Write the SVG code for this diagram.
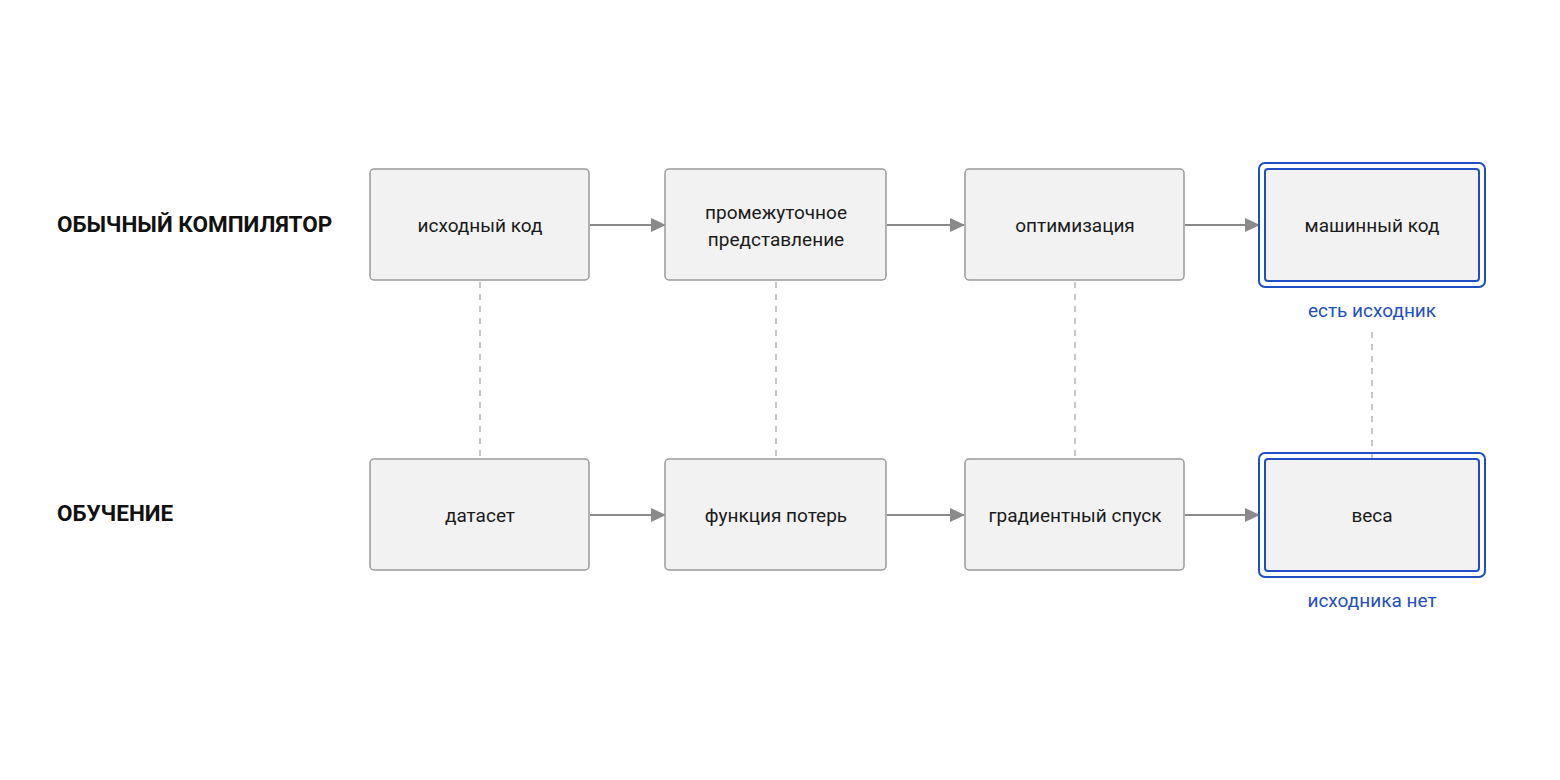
<svg xmlns="http://www.w3.org/2000/svg" width="1560" height="780" viewBox="0 0 1560 780">
<style>
.box{fill:#f2f2f2;stroke:#9a9a9a;stroke-width:1.5}
.hl{fill:none;stroke:#1f4fc1;stroke-width:2}
.hli{fill:#f2f2f2;stroke:#1f4fc1;stroke-width:2}
.t{font-family:Roboto,"Liberation Sans",sans-serif;font-size:19px;fill:#1a1a1a;text-anchor:middle}
.lbl{font-family:Roboto,"Liberation Sans",sans-serif;font-size:22.5px;font-weight:bold;fill:#111}
.note{font-family:Roboto,"Liberation Sans",sans-serif;font-size:19px;fill:#1f4fc1;text-anchor:middle}
.arr{stroke:#8a8a8a;stroke-width:2;fill:none;marker-end:url(#ah)}
.dash{stroke:#a8a8a8;stroke-width:1.3;stroke-dasharray:6 6;fill:none}
</style>
<defs>
<marker id="ah" viewBox="0 0 15 14" refX="14" refY="7" markerWidth="15" markerHeight="14" markerUnits="userSpaceOnUse" orient="auto">
<path d="M0,0 L15,7 L0,14 Z" fill="#8a8a8a"/>
</marker>
</defs>
<rect width="1560" height="780" fill="#ffffff"/>
<text class="lbl" x="57" y="232">ОБЫЧНЫЙ КОМПИЛЯТОР</text>
<text class="lbl" x="57" y="521">ОБУЧЕНИЕ</text>
<g id="connectors">
<line class="arr" x1="590" y1="225" x2="665" y2="225"/>
<line class="arr" x1="887" y1="225" x2="964" y2="225"/>
<line class="arr" x1="1185" y1="225" x2="1259" y2="225"/>
<line class="arr" x1="590" y1="515" x2="665" y2="515"/>
<line class="arr" x1="887" y1="515" x2="964" y2="515"/>
<line class="arr" x1="1185" y1="515" x2="1259" y2="515"/>
<line class="dash" x1="480" y1="282" x2="480" y2="458"/>
<line class="dash" x1="776" y1="282" x2="776" y2="458"/>
<line class="dash" x1="1075" y1="282" x2="1075" y2="458"/>
<line class="dash" x1="1372" y1="332" x2="1372" y2="458"/>
</g>
<g id="n1"><rect class="box" x="370" y="169" width="219" height="111" rx="4"/><text class="t" x="480" y="232">исходный код</text></g>
<g id="n2"><rect class="box" x="665" y="169" width="221" height="111" rx="4"/><text class="t" x="776" y="219">промежуточное</text><text class="t" x="776" y="246">представление</text></g>
<g id="n3"><rect class="box" x="965" y="169" width="219" height="111" rx="4"/><text class="t" x="1075" y="232">оптимизация</text></g>
<g id="n4"><rect class="hl" x="1259" y="163" width="226" height="124" rx="6"/><rect class="hli" x="1265" y="169" width="214" height="112" rx="3"/><text class="t" x="1372" y="232">машинный код</text></g>
<text class="note" x="1372" y="317">есть исходник</text>
<g id="n5"><rect class="box" x="370" y="459" width="219" height="111" rx="4"/><text class="t" x="480" y="522">датасет</text></g>
<g id="n6"><rect class="box" x="665" y="459" width="221" height="111" rx="4"/><text class="t" x="776" y="522">функция потерь</text></g>
<g id="n7"><rect class="box" x="965" y="459" width="219" height="111" rx="4"/><text class="t" x="1075" y="522">градиентный спуск</text></g>
<g id="n8"><rect class="hl" x="1259" y="453" width="226" height="124" rx="6"/><rect class="hli" x="1265" y="459" width="214" height="112" rx="3"/><text class="t" x="1372" y="522">веса</text></g>
<text class="note" x="1372" y="607">исходника нет</text>
</svg>
